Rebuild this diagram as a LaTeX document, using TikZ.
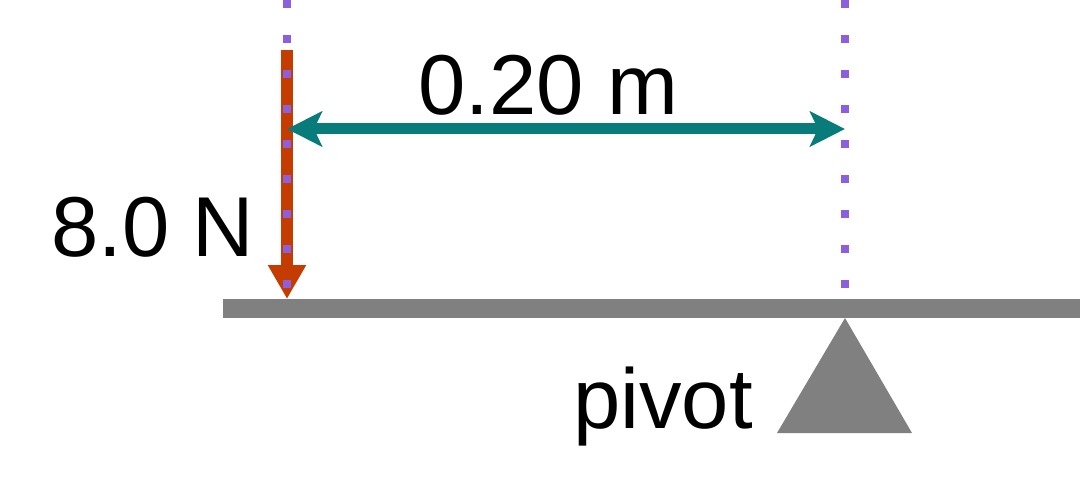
\documentclass[tikz,border=0pt]{standalone}
\usepackage{fontspec}
\setmainfont{Liberation Sans}
\usetikzlibrary{arrows.meta,positioning}
\definecolor{forcered}{RGB}{196,60,0}
\definecolor{armteal}{RGB}{8,124,122}
\definecolor{lineviolet}{RGB}{140,96,220}
\definecolor{beamgray}{RGB}{128,128,128}
\begin{document}
\begin{tikzpicture}[x=1pt,y=-1pt,
    lbl/.style={inner sep=0pt,anchor=base west,font=\fontsize{85}{100}\selectfont},
    forcearrow/.style={draw=forcered,line width=12pt,-{Triangle[length=34pt,width=36pt]}},
    armarrow/.style={draw=armteal,line width=11pt,{Stealth[length=35pt,width=35pt,inset=8pt]}-{Stealth[length=35pt,width=35pt,inset=8pt]}},
    actionline/.style={draw=lineviolet,line width=8pt,dash pattern=on 8pt off 27pt}]
        \useasboundingbox (0,0) rectangle (1080,500);
        % beam and pivot
        \fill[beamgray] (223,299) rectangle (1080,318);
        \coordinate (load) at (287,299);
        \coordinate (pivot) at (845,318);
        \fill[beamgray] (pivot) -- (777,433) -- (912,433) -- cycle;
        % force
        \coordinate (ftop) at (287,50);
        \draw[forcearrow] (ftop) -- (load);
        % moment arm
        \coordinate (armL) at (287,129);
        \coordinate (armR) at (845,129);
        \draw[armarrow] (armL) -- (armR);
        % lines of action
        \coordinate (lineL) at (287,0);
        \coordinate (lineLend) at (287,290);
        \coordinate (lineR) at (845,0);
        \coordinate (lineRend) at (845,290);
        \draw[actionline] (lineL) -- (lineLend);
        \draw[actionline] (lineR) -- (lineRend);
        % labels
        \node[lbl] (armlbl) at (418,115) {0.20 m};
        \node[lbl] (forcelbl) at (51,256) {8.0 N};
        \node[lbl] (pivotlbl) at (573,428) {pivot};
\end{tikzpicture}
\end{document}
